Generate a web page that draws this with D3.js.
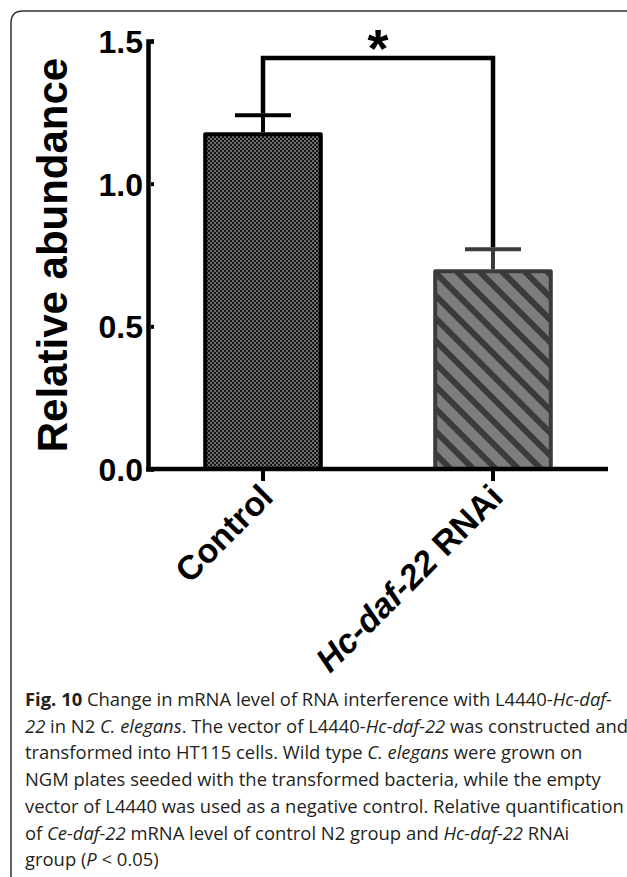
<!DOCTYPE html>
<html>
<head>
<meta charset="utf-8">
<script src="https://cdn.jsdelivr.net/npm/d3@7"></script>
<style>
  html, body { margin: 0; padding: 0; background: #fff; }
  svg { display: block; }
</style>
</head>
<body>
<div id="chart"></div>
<script>
// data
const groups = ['Control', 'Hc-daf-22 RNAi'];
const means = [1.18, 0.70];
const errors = [0.06, 0.07];
const yTicks = [0, 0.5, 1.0, 1.5];
const bracketLevel = 1.44;

const W = 627, H = 877;

const svg = d3.select('#chart').append('svg')
  .attr('width', W)
  .attr('height', H);

// patterns
const defs = svg.append('defs');
const checker = defs.append('pattern')
  .attr('id', 'checker')
  .attr('patternUnits', 'userSpaceOnUse')
  .attr('width', 4).attr('height', 4);
checker.append('rect').attr('width', 4).attr('height', 4).attr('fill', '#151515');
checker.append('rect').attr('width', 2).attr('height', 2).attr('fill', '#6e6e6e');
checker.append('rect').attr('x', 2).attr('y', 2).attr('width', 2).attr('height', 2).attr('fill', '#6e6e6e');

const stripes = defs.append('pattern')
  .attr('id', 'stripes')
  .attr('patternUnits', 'userSpaceOnUse')
  .attr('width', 16).attr('height', 16)
  .attr('patternTransform', 'rotate(-45)');
stripes.append('rect').attr('width', 16).attr('height', 16).attr('fill', '#7d7d7d');
stripes.append('rect').attr('width', 6).attr('height', 16).attr('fill', '#3b3b3b');

// frame
svg.append('path')
  .attr('d', 'M11,' + (H + 20) + ' L11,23 Q11,11 23,11 L' + (W + 20) + ',11')
  .attr('fill', 'none')
  .attr('stroke', '#333')
  .attr('stroke-width', 1.5);

const x = d3.scaleBand()
  .domain(groups)
  .range([148, 608])
  .paddingInner(0.48)
  .paddingOuter(0.24);

const y = d3.scaleLinear()
  .domain([0, 1.5])
  .range([469, 41]);

const fills = ['url(#checker)', 'url(#stripes)'];
const strokes = ['#000', '#3b3b3b'];

// bars
svg.selectAll('rect.bar')
  .data(groups)
  .enter().append('rect')
  .attr('class', 'bar')
  .attr('x', d => x(d) + 2)
  .attr('y', (d, i) => y(means[i]) + 2)
  .attr('width', x.bandwidth() - 4)
  .attr('height', (d, i) => y(0) - y(means[i]) - 2)
  .attr('fill', (d, i) => fills[i])
  .attr('stroke', (d, i) => strokes[i])
  .attr('stroke-width', 4)
  .attr('stroke-linejoin', 'round');

// error bars (upper only)
const cx = d => x(d) + x.bandwidth() / 2;
const eb = svg.append('g');
groups.forEach((g, i) => {
  eb.append('line')
    .attr('x1', cx(g)).attr('x2', cx(g))
    .attr('y1', y(means[i])).attr('y2', y(means[i] + errors[i]))
    .attr('stroke', strokes[i]).attr('stroke-width', 4);
  eb.append('line')
    .attr('x1', cx(g) - 28).attr('x2', cx(g) + 28)
    .attr('y1', y(means[i] + errors[i])).attr('y2', y(means[i] + errors[i]))
    .attr('stroke', strokes[i]).attr('stroke-width', 4);
});

// significance bracket
svg.append('path')
  .attr('d', d3.line()([
    [cx(groups[0]), y(means[0] + errors[0]) - 2],
    [cx(groups[0]), y(bracketLevel)],
    [cx(groups[1]), y(bracketLevel)],
    [cx(groups[1]), y(means[1] + errors[1]) - 2]
  ]))
  .attr('fill', 'none')
  .attr('stroke', '#000')
  .attr('stroke-width', 4.5);

svg.append('text')
  .attr('x', (cx(groups[0]) + cx(groups[1])) / 2)
  .attr('y', y(bracketLevel) + 9)
  .attr('text-anchor', 'middle')
  .style('font-family', 'Liberation Sans, Arial, sans-serif')
  .style('font-weight', 'bold')
  .style('font-size', '54px')
  .text('*');

// y axis
const yAxis = svg.append('g')
  .attr('transform', 'translate(148,0)')
  .call(d3.axisLeft(y).tickValues(yTicks).tickFormat(d3.format('.1f')).tickSize(-6).tickSizeOuter(-6).tickPadding(6));
yAxis.select('.domain').attr('stroke-width', 4.5).attr('stroke', '#000');
yAxis.selectAll('.tick line').attr('stroke-width', 4).attr('stroke', '#000').attr('x1', 3);
yAxis.selectAll('.tick text')
  .attr('x', -5)
  .attr('dy', '0.36em')
  .style('font-family', 'Liberation Sans, Arial, sans-serif')
  .style('font-weight', 'bold')
  .style('font-size', '32px')
  .attr('fill', '#000');

// x axis
const xAxis = svg.append('g')
  .attr('transform', 'translate(0,469)')
  .call(d3.axisBottom(x).tickSize(12).tickSizeOuter(0).tickFormat(''));
xAxis.select('.domain').attr('stroke-width', 4.5).attr('stroke', '#000').attr('d', 'M146,0H608');
xAxis.selectAll('.tick line').attr('stroke-width', 4).attr('stroke', '#000');

// rotated category labels
const labels = svg.append('g');
groups.forEach((g, i) => {
  const t = labels.append('text')
    .attr('transform', 'translate(' + (cx(g) + 12) + ',' + 499 + ') rotate(-45)')
    .attr('text-anchor', 'end')
    .style('font-family', 'Liberation Sans, Arial, sans-serif')
    .style('font-weight', 'bold')
    .style('font-size', '34px')
    .attr('fill', '#000');
  if (g.startsWith('Hc-daf-22')) {
    t.append('tspan').style('font-style', 'italic').text('Hc-daf-22');
    t.append('tspan').text(g.slice('Hc-daf-22'.length));
  } else {
    t.text(g);
  }
});

// y label
svg.append('text')
  .attr('transform', 'translate(67,255) rotate(-90)')
  .attr('text-anchor', 'middle')
  .style('font-family', 'Liberation Sans, Arial, sans-serif')
  .style('font-weight', 'bold')
  .style('font-size', '42px')
  .attr('fill', '#000')
  .text('Relative abundance');

// caption
const captionLines = [
  [['b', 'Fig. 10'], ['n', ' Change in mRNA level of RNA interference with L4440-'], ['i', 'Hc-daf-']],
  [['i', '22'], ['n', ' in N2 '], ['i', 'C. elegans'], ['n', '. The vector of L4440-'], ['i', 'Hc-daf-22'], ['n', ' was constructed and']],
  [['n', 'transformed into HT115 cells. Wild type '], ['i', 'C. elegans'], ['n', ' were grown on']],
  [['n', 'NGM plates seeded with the transformed bacteria, while the empty']],
  [['n', 'vector of L4440 was used as a negative control. Relative quantification']],
  [['n', 'of '], ['i', 'Ce-daf-22'], ['n', ' mRNA level of control N2 group and '], ['i', 'Hc-daf-22'], ['n', ' RNAi']],
  [['n', 'group ('], ['i', 'P'], ['n', ' < 0.05)']]
];

const cap = svg.append('g')
  .style('font-family', 'Open Sans, sans-serif')
  .style('font-size', '17px')
  .attr('fill', '#231f20');
const capLines = cap.selectAll('text')
  .data(captionLines)
  .enter().append('text')
  .attr('x', 25)
  .attr('y', (d, i) => 706 + i * 26.7);
capLines.each(function(parts) {
  const t = d3.select(this);
  parts.forEach(p => {
    const s = t.append('tspan').text(p[1]);
    if (p[0] === 'b') s.style('font-weight', 'bold').attr('fill', '#231f20');
    if (p[0] === 'i') s.style('font-style', 'italic');
  });
});
// fit the first line to the column width
const w1 = capLines.nodes()[0].getComputedTextLength();
const fs = 17 * 587 / w1;
cap.style('font-size', fs.toFixed(2) + 'px');
</script>
</body>
</html>
